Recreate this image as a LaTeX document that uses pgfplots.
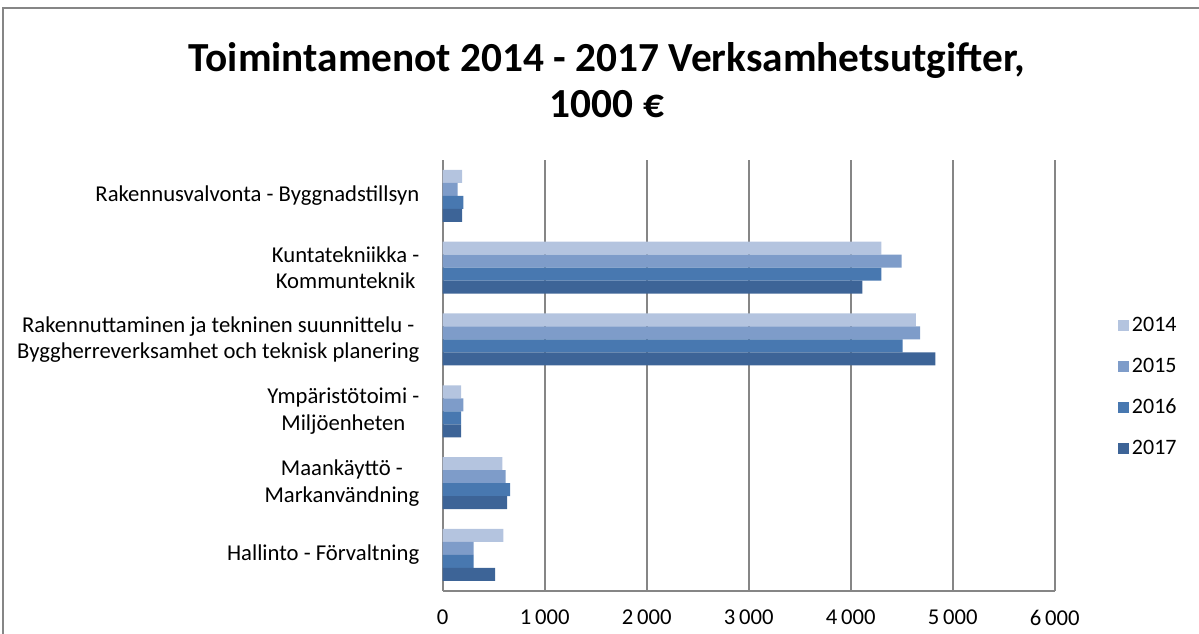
\documentclass[border=0pt]{standalone}
\usepackage{fontspec}
\setmainfont{Carlito}
\usepackage{pgfplots}
\pgfplotsset{compat=1.18}
\definecolor{cA}{HTML}{B4C4DF}
\definecolor{cB}{HTML}{7E9CC9}
\definecolor{cC}{HTML}{4878B0}
\definecolor{cD}{HTML}{3D6497}
\definecolor{gridc}{HTML}{868686}
\begin{document}
\begin{tikzpicture}[x=0.75pt,y=0.75pt]
\useasboundingbox (0,0) rectangle (1199,634);
\draw[gridc, line width=1.5pt] (2.5,0) -- (2.5,625.5) -- (1199,625.5);
\node[font=\bfseries\fontsize{31}{34}\selectfont, align=center] at (607,554) {Toimintamenot 2014 - 2017 Verksamhetsutgifter,\\1000 €};
\begin{axis}[
  at={(434,60)}, anchor=south west,
  scale only axis, width=459pt, height=323.25pt,
  xbar=0pt, bar width=0.181,
  xmin=0, xmax=6000, ymin=-0.5, ymax=5.5,
  ytick={0,1,2,3,4,5},
  yticklabels={{Hallinto - Förvaltning},{Maankäyttö -\\Markanvändning},{Ympäristötoimi -\\Miljöenheten},{Rakennuttaminen ja tekninen suunnittelu -\\Byggherreverksamhet och teknisk planering},{Kuntatekniikka -\\Kommunteknik},{Rakennusvalvonta - Byggnadstillsyn}},
  xtick={0,1000,2000,3000,4000,5000,6000},
  xticklabels={0,1\,000,2\,000,3\,000,4\,000,5\,000,6\,000},
  major tick length=0pt,
  xmajorgrids, major grid style={gridc, line width=1.5pt},
  axis lines*=left, axis line style={gridc, line width=1.5pt, -},
  tick label style={font=\fontsize{17}{20}\selectfont, text=black},
  yticklabel style={align=center, xshift=-14pt},
  xticklabel style={yshift=-11pt},
  legend style={at={(1.097,0.473)}, anchor=west, draw=none, fill=none,
    font=\fontsize{16.5}{19.5}\selectfont, row sep=14.5pt},
  legend cell align=left,
  legend image code/.code={\fill[#1] (0pt,-4.1pt) rectangle (8.25pt,4.15pt);},
]
\addplot[fill=cA, draw=none, bar shift=0.2715] coordinates {(595,0) (585,1) (180,2) (4640,3) (4300,4) (190,5)};
\addplot[fill=cB, draw=none, bar shift=0.0905] coordinates {(304,0) (618,1) (203,2) (4680,3) (4500,4) (147,5)};
\addplot[fill=cC, draw=none, bar shift=-0.0905] coordinates {(304,0) (660,1) (180,2) (4510,3) (4300,4) (203,5)};
\addplot[fill=cD, draw=none, bar shift=-0.2715] coordinates {(514,0) (631,1) (180,2) (4830,3) (4115,4) (190,5)};
\legend{2014,2015,2016,2017}
\end{axis}
\end{tikzpicture}
\end{document}
